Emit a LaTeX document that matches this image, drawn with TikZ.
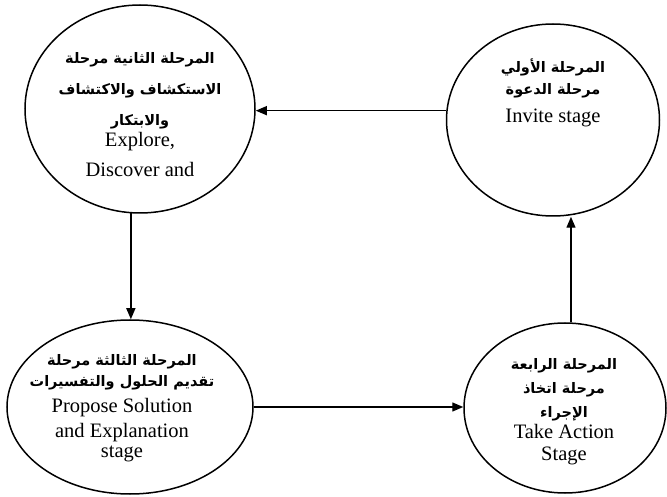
\documentclass[tikz,border=0pt]{standalone}
\usepackage{fontspec}
\setmainfont{Liberation Serif}
\newfontfamily\arabicfont[Script=Arabic]{DejaVu Sans}
\TeXXeTstate=1
\usetikzlibrary{shapes.geometric,arrows.meta}
\newcommand{\artxt}[1]{{\arabicfont\bfseries\fontsize{14.5}{16}\selectfont\beginR #1\endR}}
\tikzset{
  stage/.style={draw, ellipse, line width=1.5pt, inner sep=0pt},
  en/.style={anchor=base, inner sep=0pt, font=\fontsize{20.5}{24}\selectfont},
  ar/.style={anchor=base, inner sep=0pt},
  flow/.style={line width=1.4pt, -{Triangle[length=11pt,width=9pt]}}
}
\begin{document}
\begin{tikzpicture}[x=1pt,y=1pt]
\useasboundingbox (0,0) rectangle (667,496);
% ellipses
\node[stage, minimum width=230pt, minimum height=208pt] (TL) at (140,387) {};
\node[stage, minimum width=213pt, minimum height=192pt] (TR) at (553,376) {};
\node[stage, minimum width=246pt, minimum height=174pt] (BL) at (130,89) {};
\node[stage, minimum width=202pt, minimum height=170pt] (BR) at (565,88) {};
% texts top-left
\node[ar] (tl1) at (140,432) {\artxt{المرحلة الثانية مرحلة}};
\node[ar] (tl2) at (140,401) {\artxt{الاستكشاف والاكتشاف}};
\node[ar] (tl3) at (140,370) {\artxt{والابتكار}};
\node[en] (tl4) at (140,349) {Explore,};
\node[en] (tl5) at (140,319) {Discover and};
% texts top-right
\node[ar] (tr1) at (553,423) {\artxt{المرحلة الأولي}};
\node[ar] (tr2) at (553,401) {\artxt{مرحلة الدعوة}};
\node[en] (tr3) at (553,373) {Invite stage};
% texts bottom-left
\node[ar] (bl1) at (122,131) {\artxt{المرحلة الثالثة مرحلة}};
\node[ar] (bl2) at (122,110) {\artxt{تقديم الحلول والتفسيرات}};
\node[en] (bl3) at (122,84) {Propose Solution};
\node[en] (bl4) at (122,59) {and Explanation};
\node[en] (bl5) at (122,39) {stage};
% texts bottom-right
\node[ar] (br1) at (564,127) {\artxt{المرحلة الرابعة}};
\node[ar] (br2) at (564,103) {\artxt{مرحلة اتخاذ}};
\node[ar] (br3) at (564,79) {\artxt{الإجراء}};
\node[en] (br4) at (564,58) {Take Action};
\node[en] (br5) at (564,36) {Stage};
% connectors
\draw[flow] (TR.175.7) -- (TR.175.7 -| TL.east);
\draw[flow] (TL.-95.5) -- (TL.-95.5 |- BL.north);
\draw[flow] (BL.east) -- (BL.east -| BR.west);
\draw[flow] (BR.86.6) -- (BR.86.6 |- TR.south);
\end{tikzpicture}
\end{document}
